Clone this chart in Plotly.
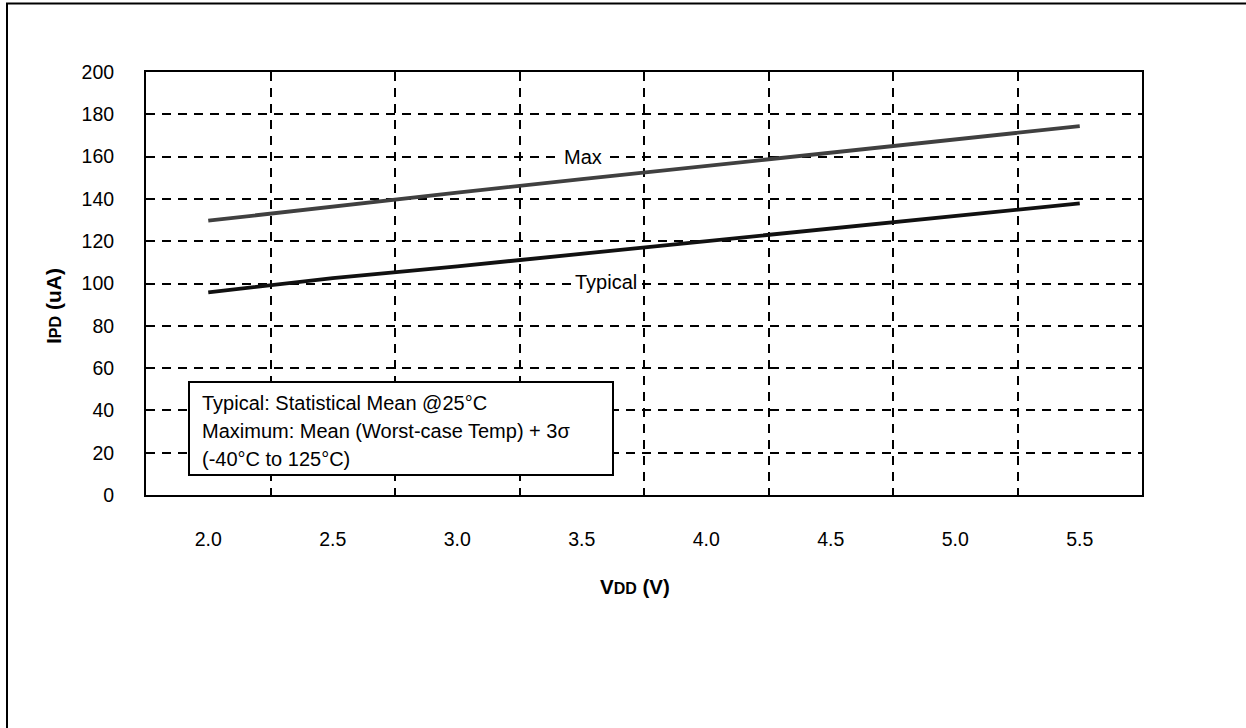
import plotly.graph_objects as go

# ---- data ----
vdd = [2.0, 2.5, 3.0, 3.5, 4.0, 4.5, 5.0, 5.5]
vdd_labels = ["2.0", "2.5", "3.0", "3.5", "4.0", "4.5", "5.0", "5.5"]
ipd_max = [129.7, 136.5, 143.0, 149.3, 155.5, 161.8, 168.2, 174.4]
ipd_typ = [95.8, 102.5, 108.1, 114.0, 120.0, 126.0, 131.8, 137.9]
y_ticks = [0, 20, 40, 60, 80, 100, 120, 140, 160, 180, 200]
grid_x = [2.25, 2.75, 3.25, 3.75, 4.25, 4.75, 5.25]

W, H = 1246, 728
L, R, T, B = 146, 1142, 72, 495  # plot area in pixels
FONT = "Liberation Sans, Arial, Helvetica, sans-serif"


def px(x):
    return (x - L) / (R - L)


def py(y):
    return (B - y) / (B - T)


fig = go.Figure()
fig.add_trace(go.Scatter(x=vdd, y=ipd_max, mode="lines", name="Max",
                         line=dict(color="#404040", width=3.8), showlegend=False))
fig.add_trace(go.Scatter(x=vdd, y=ipd_typ, mode="lines", name="Typical",
                         line=dict(color="#111111", width=3.8), showlegend=False))

dash = "9px,7px"
fig.update_layout(
    width=W, height=H,
    margin=dict(l=L, r=W - R, t=T, b=H - B, pad=0),
    paper_bgcolor="white", plot_bgcolor="white",
    font=dict(family=FONT, color="black", size=19),
    showlegend=False,
    xaxis=dict(
        range=[1.75, 5.75], tickmode="array", tickvals=vdd, ticktext=vdd_labels,
        showgrid=False, zeroline=False, ticks="",
        showline=True, mirror=True, linecolor="black", linewidth=2,
        tickfont=dict(size=19.5), ticklabelstandoff=26,
        minor=dict(tickmode="array", tickvals=grid_x, showgrid=True,
                   gridcolor="black", gridwidth=2, griddash=dash, ticks=""),
    ),
    yaxis=dict(
        range=[0, 200], tickmode="array", tickvals=y_ticks,
        showgrid=True, gridcolor="black", gridwidth=2, griddash=dash,
        zeroline=False, ticks="",
        showline=True, mirror=True, linecolor="black", linewidth=2,
        tickfont=dict(size=19.5), ticklabelstandoff=26,
    ),
)

shapes = [
    # outer frame
    dict(type="rect", xref="paper", yref="paper",
         x0=px(7), x1=px(1400), y0=py(3.5), y1=py(900),
         line=dict(color="black", width=2), fillcolor="rgba(0,0,0,0)", layer="above"),
    # legend note box
    dict(type="rect", xref="paper", yref="paper",
         x0=px(189), x1=px(613), y0=py(475), y1=py(382),
         line=dict(color="black", width=2), fillcolor="white", layer="above"),
]
fig.update_layout(shapes=shapes)

annos = [
    dict(text="Max", x=px(582.5), y=py(157), bgcolor="white", borderpad=4),
    dict(text="Typical", x=px(606), y=py(282), bgcolor="white", borderpad=2),
    dict(text="Typical: Statistical Mean @25°C", x=px(200), y=py(403), xanchor="left", font=dict(size=20)),
    dict(text="Maximum: Mean (Worst-case Temp) + 3σ", x=px(200), y=py(431), xanchor="left", font=dict(size=20)),
    dict(text="(-40°C to 125°C)", x=px(200), y=py(459), xanchor="left", font=dict(size=20)),
    dict(text="<b>V<span style='font-size:16px'>DD</span> (V)</b>", x=px(635), y=py(586), font=dict(size=20.5)),
    dict(text="<b>I<span style='font-size:16px'>PD</span> (uA)</b>", x=px(53), y=py(306), textangle=-90, font=dict(size=21)),
]
for a in annos:
    base = dict(xref="paper", yref="paper", showarrow=False, xanchor="center", yanchor="middle",
                font=dict(size=20, family=FONT, color="black"))
    if "font" in a:
        f = dict(base["font"])
        f.update(a.pop("font"))
        base["font"] = f
    base.update(a)
    fig.add_annotation(**base)

fig.write_html("out.html",
               config={"displayModeBar": False},
               post_script="document.body.style.margin='0';document.body.style.overflow='hidden';")
